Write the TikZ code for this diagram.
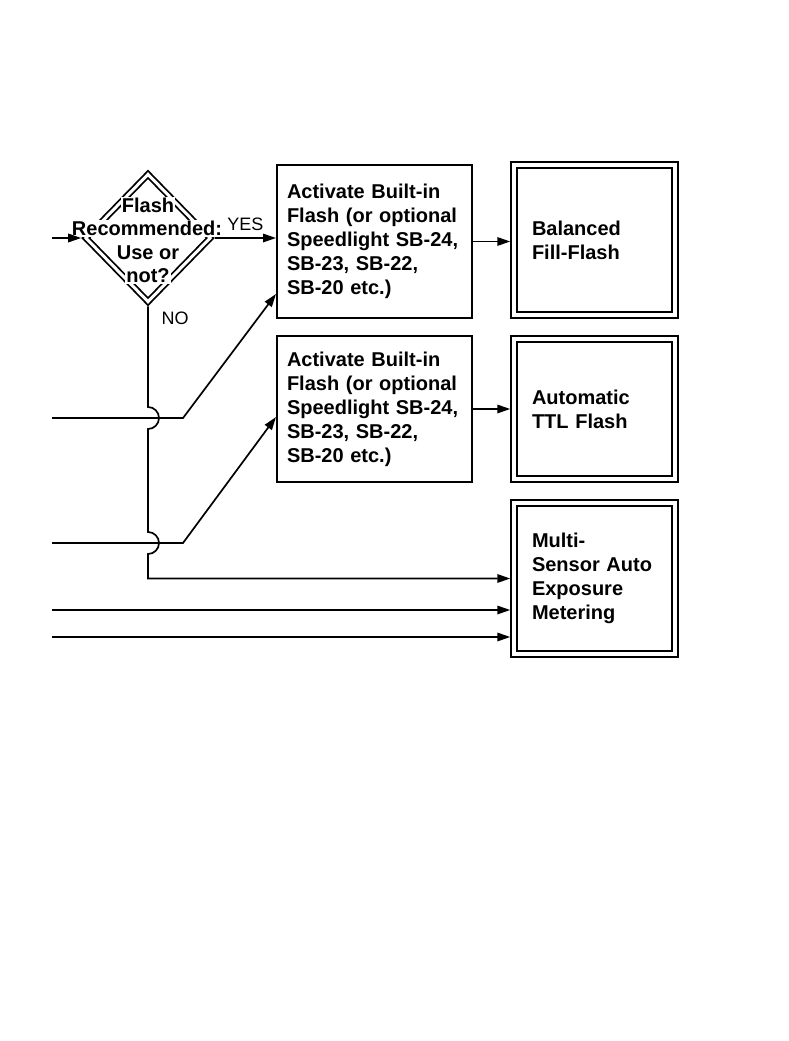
\documentclass[tikz,border=0pt]{standalone}
\usepackage{fontspec}
\setmainfont{Liberation Sans}
\usetikzlibrary{positioning, arrows.meta, shapes.geometric}

\begin{document}
\begin{tikzpicture}[
    x=1pt, y=-1pt,
    every node/.style={font=\fontsize{20}{24}\selectfont},
    box/.style={rectangle, draw, line width=2pt, align=left, text width=175pt, inner xsep=10pt, font=\bfseries\fontsize{20}{24}\selectfont},
    result/.style={box, double, double distance=3.5pt, outer sep=3.75pt, text width=125pt, inner xsep=18pt},
    decision/.style={diamond, draw, line width=1.8pt, double, double distance=3pt, minimum width=127pt, minimum height=130pt, inner sep=0pt, outer sep=3.3pt},
    qtext/.style={fill=white, inner sep=1pt, anchor=base, font=\bfseries\fontsize{20}{24}\selectfont},
    ans/.style={font=\fontsize{18}{22}\selectfont},
    arr/.style={-{Triangle[length=13pt, width=8.5pt]}, line width=1.7pt},
]
    \useasboundingbox (0,0) rectangle (789,1041);

    % decision
    \node[decision] (dec) at (148,238) {};
    \node[qtext] (q1) at (148,212) {Flash};
    \node[qtext] (q2) at (147,235.5) {Recommended:};
    \node[qtext] (q3) at (148,259) {Use or};
    \node[qtext] (q4) at (148,282.5) {not?};

    % flash boxes
    \node[box, minimum height=153pt] (act1) at (374.5,241.5) {Activate Built-in\\Flash (or optional\\Speedlight SB-24,\\SB-23, SB-22,\\SB-20 etc.)};
    \node[box, minimum height=146pt] (act2) at (374.5,409) {Activate Built-in\\Flash (or optional\\Speedlight SB-24,\\SB-23, SB-22,\\SB-20 etc.)};

    % results
    \node[result, minimum height=150pt] (fill) at (594.5,240) {Balanced\\Fill-Flash};
    \node[result, minimum height=140pt] (ttl) at (594.5,409) {Automatic\\TTL Flash};
    \node[result, minimum height=151pt] (meter) at (594.5,578.5) {Multi-\\Sensor Auto\\Exposure\\Metering};

    % incoming lines
    \coordinate (in0) at (52,238);
    \coordinate (in1) at (52,418);
    \coordinate (in2) at (52,543);
    \coordinate (in3) at (52,610);
    \coordinate (in4) at (52,637);

    \draw[arr] (in0) -- (dec.west);
    \draw[arr] (dec.east) -- node[above=3pt, ans] (yes) {YES} (dec.east -| act1.west);
    \draw[arr] (act1.east) -- (act1.east -| fill.west);
    \draw[arr] (act2.east) -- (act2.east -| ttl.west);
    \draw[arr] (in1) -- ++(131,0) -- ([yshift=-52.5pt]act1.west);
    \draw[arr] (in2) -- ++(131,0) -- ([yshift=-8pt]act2.west);
    \draw[arr] (in3) -- (in3 -| meter.west);
    \draw[arr] (in4) -- (in4 -| meter.west);

    % NO branch, hopping over the lines
    \node[ans, below right=2pt and 10pt of dec.south] (no) {NO};
    \draw[arr] (dec.south) -- ([yshift=11pt]dec.south |- in1)
        arc[start angle=90, end angle=-90, radius=11pt]
        -- ([yshift=11pt]dec.south |- in2)
        arc[start angle=90, end angle=-90, radius=11pt]
        |- (meter.west);
\end{tikzpicture}
\end{document}
